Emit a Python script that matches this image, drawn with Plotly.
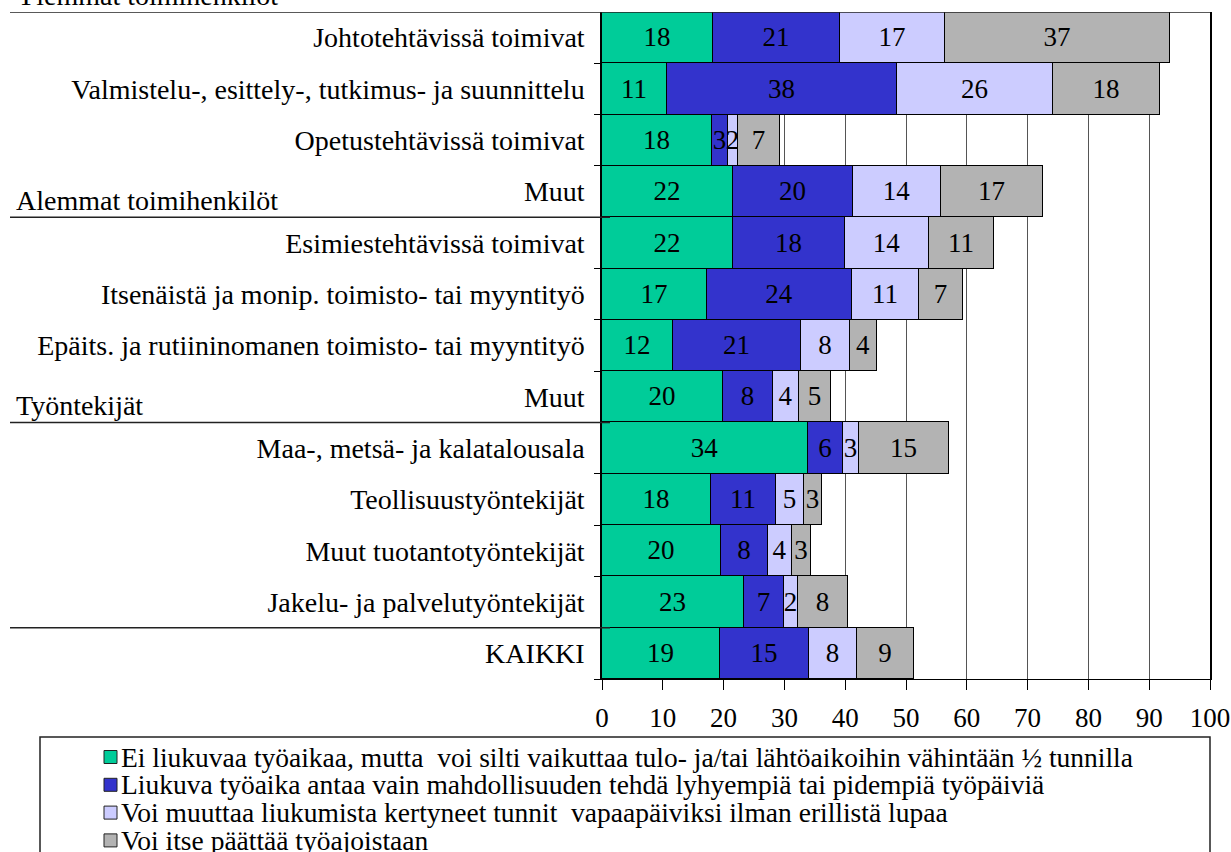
"""
Liukuvan työajan käyttö ammattiryhmittäin, vaakasuuntainen pinottu pylväskaavio.
"""

import plotly.graph_objects as go

# Rivit ylhäältä alas
rivit = [
    "Johtotehtävissä toimivat",
    "Valmistelu-, esittely-, tutkimus- ja suunnittelu",
    "Opetustehtävissä toimivat",
    "Muut",
    "Esimiestehtävissä toimivat",
    "Itsenäistä ja monip. toimisto- tai myyntityö",
    "Epäits. ja rutiininomanen toimisto- tai myyntityö",
    "Muut",
    "Maa-, metsä- ja kalatalousala",
    "Teollisuustyöntekijät",
    "Muut tuotantotyöntekijät",
    "Jakelu- ja palvelutyöntekijät",
    "KAIKKI",
]

ryhmat = ["Ylemmät toimihenkilöt", "Alemmat toimihenkilöt", "Työntekijät"]
ryhma_alkaa = [0, 4, 8]  # rivi, jolta ryhmä alkaa

sarjat = [
    "Ei liukuvaa työaikaa, mutta  voi silti vaikuttaa tulo- ja/tai lähtöaikoihin vähintään ½ tunnilla",
    "Liukuva työaika antaa vain mahdollisuuden tehdä lyhyempiä tai pidempiä työpäiviä",
    "Voi muuttaa liukumista kertyneet tunnit  vapaapäiviksi ilman erillistä lupaa",
    "Voi itse päättää työajoistaan",
]

ei_liukuvaa = [18.3, 10.7, 18.1, 21.6, 21.6, 17.2, 11.6, 19.9, 33.9, 18.0, 19.6, 23.4, 19.4]
liukuva = [20.9, 37.8, 2.6, 19.7, 18.3, 23.9, 21.1, 8.2, 5.8, 10.6, 7.7, 6.6, 14.6]
vapaapaivat = [17.2, 25.6, 1.6, 14.4, 13.8, 11.0, 8.1, 4.3, 2.6, 4.6, 4.0, 2.2, 8.0]
itse_paattaa = [37.0, 17.7, 7.0, 16.8, 10.7, 7.2, 4.4, 5.3, 14.8, 3.0, 3.0, 8.2, 9.3]

x_tikit = [0, 10, 20, 30, 40, 50, 60, 70, 80, 90, 100]

varit = ["#00CC99", "#3333CC", "#CCCCFF", "#B3B3B3"]
FONTTI = "Liberation Serif"

# Kuvan mitat pikseleinä
W, H = 1231, 852
M_L, M_R, M_T, M_B = 602, 21, 12, 173
PW = W - M_L - M_R
PH = H - M_T - M_B


def px_x(px):
    """Pikselin x-koordinaatti paperikoordinaateiksi."""
    return (px - M_L) / PW


def px_y(py):
    """Pikselin y-koordinaatti paperikoordinaateiksi."""
    return (H - M_B - py) / PH


y_pos = list(range(len(rivit)))

fig = go.Figure()

for nimi, arvot, vari in zip(sarjat, [ei_liukuvaa, liukuva, vapaapaivat, itse_paattaa], varit):
    fig.add_trace(go.Bar(
        name=nimi,
        x=arvot,
        y=y_pos,
        orientation="h",
        marker=dict(color=vari, line=dict(color="black", width=1)),
        texttemplate="%{x:.0f}",
        textposition="inside",
        insidetextanchor="middle",
        textangle=0,
        constraintext="none",
        textfont=dict(family=FONTTI, size=27, color="black"),
        hoverinfo="x+y",
        showlegend=False,
    ))

# Ryhmien erotinviivat ja otsikot
erotin_rivit = [-0.5, 3.5, 7.5, 11.5]
for i, r in enumerate(erotin_rivit):
    fig.add_shape(
        type="line",
        xref="paper", yref="y",
        x0=px_x(10), x1=1 if i == 0 else px_x(610),
        y0=r, y1=r,
        line=dict(color="#222", width=1.5),
    )

for nimi, alku in zip(ryhmat, ryhma_alkaa):
    fig.add_annotation(
        xref="paper", yref="y",
        x=px_x(14), y=alku - 0.5,
        xanchor="left", yanchor="bottom",
        text=nimi,
        showarrow=False,
        font=dict(family=FONTTI, size=28, color="black"),
        yshift=-1,
    )

# Selite: kehys, värineliöt ja tekstit
fig.add_shape(
    type="rect",
    xref="paper", yref="paper",
    x0=px_x(40), x1=px_x(1210),
    y0=px_y(737), y1=px_y(900),
    line=dict(color="#222", width=1.5),
    fillcolor="rgba(0,0,0,0)",
)
for i, (nimi, vari) in enumerate(zip(sarjat, varit)):
    yc = 757 + i * 27.8
    fig.add_shape(
        type="rect",
        xref="paper", yref="paper",
        x0=px_x(104), x1=px_x(117),
        y0=px_y(yc + 6.5), y1=px_y(yc - 6.5),
        line=dict(color="#222", width=1),
        fillcolor=vari,
    )
    fig.add_annotation(
        xref="paper", yref="paper",
        x=px_x(119), y=px_y(yc),
        xanchor="left", yanchor="middle",
        text=nimi,
        showarrow=False,
        font=dict(family=FONTTI, size=27.5, color="black"),
    )

fig.update_layout(
    barmode="stack",
    bargap=0,
    width=W,
    height=H,
    margin=dict(l=M_L, r=M_R, t=M_T, b=M_B, pad=0, autoexpand=False),
    plot_bgcolor="white",
    paper_bgcolor="white",
    font=dict(family=FONTTI, size=28, color="black"),
    showlegend=False,
    xaxis=dict(
        range=[0, 100],
        tickvals=x_tikit,
        ticks="outside",
        ticklen=10,
        tickcolor="black",
        ticklabelstandoff=5,
        ticklabeloverflow="allow",
        showgrid=True,
        gridcolor="#555555",
        gridwidth=1,
        showline=True,
        linecolor="black",
        linewidth=1,
        zeroline=False,
        tickfont=dict(family=FONTTI, size=27),
    ),
    yaxis=dict(
        range=[len(rivit) - 0.5, -0.5],
        tickvals=y_pos,
        ticktext=rivit,
        ticks="",
        ticklabelstandoff=10,
        showline=True,
        mirror=True,
        linecolor="black",
        linewidth=1.5,
        showgrid=False,
        zeroline=False,
        tickfont=dict(family=FONTTI, size=28),
        minor=dict(
            tickvals=[i + 0.5 for i in y_pos],
            ticks="outside",
            ticklen=6,
            tickcolor="black",
            showgrid=False,
        ),
    ),
)

# Sivun oletusmarginaali pois, jotta kuva alkaa vasemmasta yläkulmasta
fig.write_html(
    "out.html",
    config={"displayModeBar": False},
    post_script="document.body.style.margin='0';",
)
